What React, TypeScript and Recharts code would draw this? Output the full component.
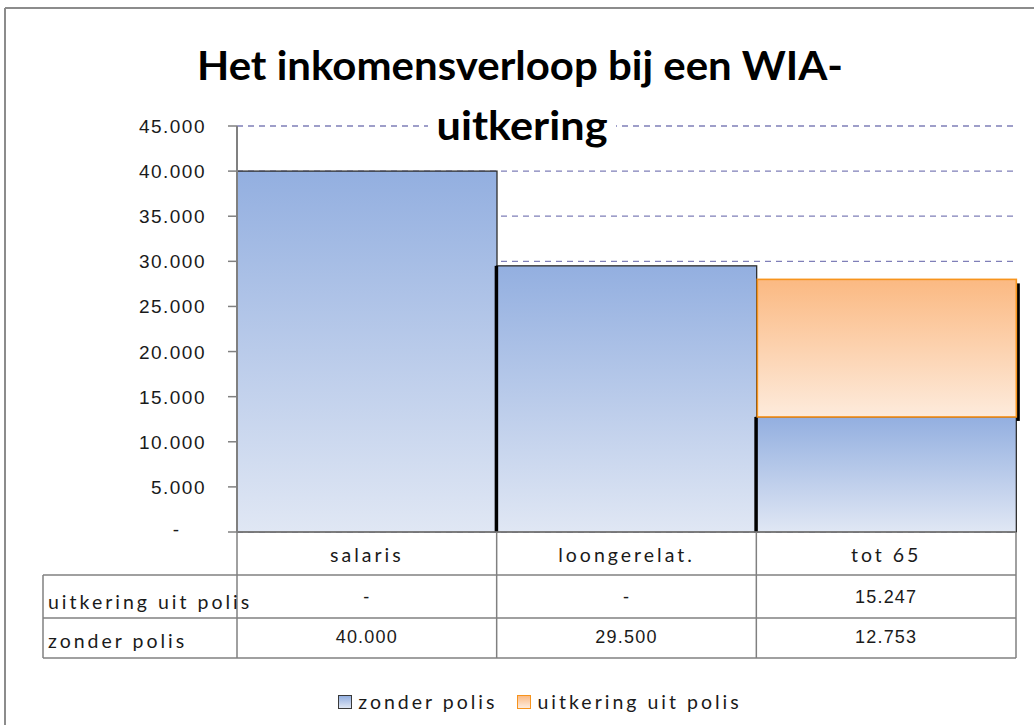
import React from 'react';
import { BarChart, Bar, XAxis, YAxis, CartesianGrid, Legend } from 'recharts';

// ---- data ----
const categories = ['salaris', 'loongerelat.', 'tot 65'];
const zonderPolis = [40000, 29500, 12753];
const uitkeringUitPolis = [0, 0, 15247];
const yTicks = [0, 5000, 10000, 15000, 20000, 25000, 30000, 35000, 40000, 45000];
const seriesZonder = 'zonder polis';
const seriesUitkering = 'uitkering uit polis';
const titleLines = ['Het inkomensverloop bij een WIA-', 'uitkering'];

const data = categories.map((c, i) => ({
  name: c,
  zonder: zonderPolis[i],
  uitkering: uitkeringUitPolis[i],
}));

// ---- layout ----
const W = 1034;
const H = 725;
const PLOT_LEFT = 237;
const PLOT_RIGHT = 1016;
const AXIS_Y = 532;
const X_AXIS_H = 126;
const MARGIN = { top: 126, right: W - PLOT_RIGHT, bottom: H - AXIS_Y - X_AXIS_H, left: 0 };
const ROW1 = 575;
const ROW2 = 618;
const ROW3 = 658;
const TABLE_LEFT = 43;

const NUM_FONT = "'Liberation Sans', Arial, sans-serif";
const TXT_FONT = "Lato, 'Noto Sans', sans-serif";
const LINE = '#808080';
const TXT_SPACING = 3.0;

const fmt = (v: number) =>
  v === 0 ? '-' : String(v).replace(/\B(?=(\d{3})+(?!\d))/g, '.');

const YTick = (props: any) => {
  const { x, y, payload } = props;
  const v = payload.value as number;
  if (v === 0) {
    return (
      <text x={x - 27} y={y} dy={4} textAnchor="end" fontFamily={NUM_FONT} fontSize={19} fill="#1a1a1a">
        -
      </text>
    );
  }
  return (
    <text x={x} y={y} dy={7} textAnchor="end" fontFamily={NUM_FONT} fontSize={19} letterSpacing={1.5} fill="#1a1a1a">
      {fmt(v)}
    </text>
  );
};

const TableTick = (props: any) => {
  const { x, index } = props;
  const n = categories.length;
  const half = (PLOT_RIGHT - PLOT_LEFT) / n / 2;
  const d = data[index];
  const left = x - half;
  const right = x + half;
  return (
    <g>
      {index === 0 && (
        <g>
          <line x1={left} x2={left} y1={AXIS_Y} y2={ROW3} stroke={LINE} strokeWidth={1.5} />
          <line x1={TABLE_LEFT} x2={TABLE_LEFT} y1={ROW1} y2={ROW3} stroke={LINE} strokeWidth={1.5} />
          {[ROW1, ROW2, ROW3].map((yy) => (
            <line key={yy} x1={TABLE_LEFT} x2={left + 2 * half * n} y1={yy} y2={yy} stroke={LINE} strokeWidth={1.5} />
          ))}
          <text x={TABLE_LEFT + 5} y={609} fontFamily={TXT_FONT} fontSize={19.5} letterSpacing={TXT_SPACING} fill="#1a1a1a">
            {seriesUitkering}
          </text>
          <text x={TABLE_LEFT + 5} y={648} fontFamily={TXT_FONT} fontSize={19.5} letterSpacing={TXT_SPACING} fill="#1a1a1a">
            {seriesZonder}
          </text>
        </g>
      )}
      <line x1={right} x2={right} y1={AXIS_Y} y2={ROW3} stroke={LINE} strokeWidth={1.5} />
      <text x={x} y={562} textAnchor="middle" fontFamily={TXT_FONT} fontSize={19.5} letterSpacing={TXT_SPACING} fill="#1a1a1a">
        {d.name}
      </text>
      <text x={x} y={603} textAnchor="middle" fontFamily={NUM_FONT} fontSize={18} letterSpacing={1.2} fill="#1a1a1a">
        {fmt(d.uitkering)}
      </text>
      <text x={x} y={643} textAnchor="middle" fontFamily={NUM_FONT} fontSize={18} letterSpacing={1.2} fill="#1a1a1a">
        {fmt(d.zonder)}
      </text>
    </g>
  );
};

const BlueShape = (props: any) => {
  const { x, y, width, height, index } = props;
  if (!height || height <= 0) return null;
  return (
    <g>
      <rect x={x} y={y} width={width} height={height} fill="url(#gradBlue)" stroke="#2e2e2e" strokeWidth={1.3} />
      {index > 0 && <rect x={x - 2} y={y} width={3.5} height={height} fill="#000" />}
    </g>
  );
};

const OrangeShape = (props: any) => {
  const { x, y, width, height } = props;
  if (!height || height <= 0) return null;
  return (
    <g>
      <rect x={x + width} y={y + 4} width={3.5} height={height} fill="#000" />
      <rect x={x + 1} y={y} width={width - 1} height={height} fill="url(#gradOrange)" stroke="#f7941d" strokeWidth={1.6} />
    </g>
  );
};

const LegendContent = (props: any) => {
  const items = [...(props.payload || [])].sort((a: any, b: any) =>
    a.dataKey === 'zonder' ? -1 : b.dataKey === 'zonder' ? 1 : 0
  );
  return (
    <div
      style={{
        display: 'flex',
        justifyContent: 'center',
        alignItems: 'center',
        gap: 20,
        paddingLeft: 46,
        fontFamily: TXT_FONT,
        fontSize: 19.5,
        letterSpacing: TXT_SPACING,
        color: '#1a1a1a',
      }}
    >
      {items.map((p: any) => {
        const blue = p.dataKey === 'zonder';
        return (
          <div key={p.dataKey} style={{ display: 'flex', alignItems: 'center' }}>
            <span
              style={{
                display: 'inline-block',
                width: 12,
                height: 12,
                marginRight: 6,
                background: blue
                  ? 'linear-gradient(#93afe0, #dfe6f3)'
                  : 'linear-gradient(#fbbb85, #fdebdd)',
                border: blue ? '1.5px solid #3a3a3a' : '1.5px solid #f7941d',
              }}
            />
            <span>{p.value}</span>
          </div>
        );
      })}
    </div>
  );
};

export default function App() {
  return (
    <div style={{ position: 'absolute', left: 0, top: 0, width: W, height: H, background: '#fff' }}>
      <BarChart width={W} height={H} data={data} margin={MARGIN} barCategoryGap={0} barGap={0}>
        <defs>
          <linearGradient id="gradBlue" x1="0" y1="0" x2="0" y2="1">
            <stop offset="0%" stopColor="#93afe0" />
            <stop offset="100%" stopColor="#e0e7f4" />
          </linearGradient>
          <linearGradient id="gradOrange" x1="0" y1="0" x2="0" y2="1">
            <stop offset="0%" stopColor="#fbb982" />
            <stop offset="100%" stopColor="#fdebdc" />
          </linearGradient>
        </defs>
        <CartesianGrid vertical={false} strokeDasharray="6 5" stroke="#7f7fb8" strokeWidth={1.3} />
        <XAxis
          dataKey="name"
          height={X_AXIS_H}
          axisLine={{ stroke: LINE, strokeWidth: 1.5 }}
          tickLine={false}
          tick={<TableTick />}
          interval={0}
        />
        <YAxis
          width={PLOT_LEFT}
          domain={[0, 45000]}
          ticks={yTicks}
          interval={0}
          tickSize={9}
          tickMargin={22}
          axisLine={{ stroke: LINE, strokeWidth: 2 }}
          tickLine={{ stroke: LINE, strokeWidth: 1.5 }}
          tick={<YTick />}
        />
        <Bar dataKey="zonder" name={seriesZonder} stackId="a" isAnimationActive={false} shape={<BlueShape />} fill="#93afe0" />
        <Bar dataKey="uitkering" name={seriesUitkering} stackId="a" isAnimationActive={false} shape={<OrangeShape />} fill="#fbb982" />
        <Legend
          verticalAlign="middle"
          align="center"
          layout="horizontal"
          wrapperStyle={{ top: 690, left: 0, width: W }}
          content={<LegendContent />}
        />
      </BarChart>
      <svg width={W} height={H} style={{ position: 'absolute', left: 0, top: 0, pointerEvents: 'none' }}>
        <line x1={5} x2={5} y1={8} y2={H} stroke="#8c8c8c" strokeWidth={2} />
        <line x1={5} x2={W} y1={8} y2={8} stroke="#8c8c8c" strokeWidth={2} />
        <rect x={428} y={110} width={188} height={42} fill="#fff" />
        <text x={520} y={80} textAnchor="middle" fontFamily="Lato, 'Noto Sans', sans-serif" fontWeight={700} fontSize={40} textLength={646} lengthAdjust="spacingAndGlyphs" fill="#000">
          {titleLines[0]}
        </text>
        <text x={522} y={140} textAnchor="middle" fontFamily="Lato, 'Noto Sans', sans-serif" fontWeight={700} fontSize={40} textLength={171} lengthAdjust="spacingAndGlyphs" fill="#000">
          {titleLines[1]}
        </text>
      </svg>
    </div>
  );
}
